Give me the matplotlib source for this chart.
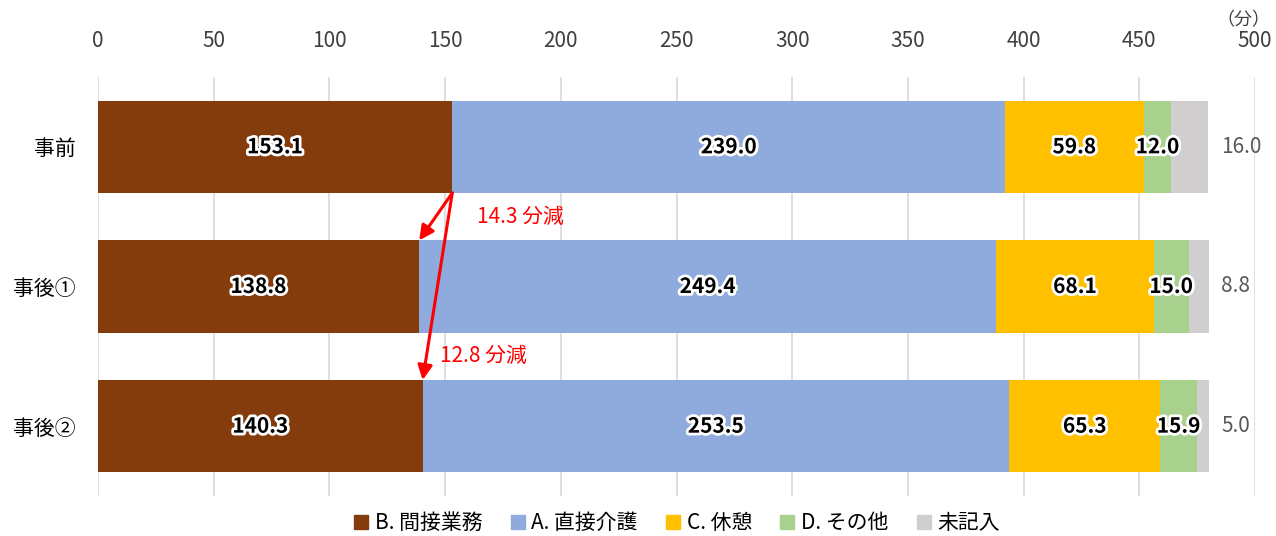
import matplotlib
matplotlib.use("Agg")
import matplotlib.pyplot as plt
import matplotlib.patheffects as pe
from matplotlib.patches import FancyArrowPatch
from matplotlib.lines import Line2D

plt.rcParams['font.family'] = ['Noto Sans CJK JP', 'DejaVu Sans']

categories = ['事前', '事後①', '事後②']
series_names = ['B. 間接業務', 'A. 直接介護', 'C. 休憩', 'D. その他', '未記入']
series_values = {
    'B. 間接業務': [153.1, 138.8, 140.3],
    'A. 直接介護': [239.0, 249.4, 253.5],
    'C. 休憩': [59.8, 68.1, 65.3],
    'D. その他': [12.0, 15.0, 15.9],
    '未記入': [16.0, 8.8, 5.0],
}
colors = ['#843C0C', '#8FAADC', '#FFC000', '#A9D18E', '#D0CECE']
xticks = [0, 50, 100, 150, 200, 250, 300, 350, 400, 450, 500]
diff_labels = ['14.3 分減', '12.8 分減']

fig = plt.figure(figsize=(12.76, 5.36), dpi=100)
ax = fig.add_axes([98/1276, 1-496/536, (1255-98)/1276, (496-77)/536])

bh = 0.66
left = [0.0, 0.0, 0.0]
for name, col in zip(series_names, colors):
    vals = series_values[name]
    ax.barh(range(len(categories)), vals, left=left, height=bh, color=col, zorder=2)
    for i, v in enumerate(vals):
        if name == '未記入':
            ax.annotate(f'{v:.1f}', xy=(left[i] + v, i), xytext=(9, 0),
                        textcoords='offset points', va='center', ha='left',
                        fontsize=15, color='#595959')
        else:
            ax.text(left[i] + v / 2, i, f'{v:.1f}', ha='center', va='center',
                    fontsize=15, fontweight='bold', color='black', zorder=4,
                    path_effects=[pe.withStroke(linewidth=4, foreground='white')])
    left = [l + v for l, v in zip(left, vals)]

ax.set_xlim(0, 500)
ax.set_ylim(2.5, -0.5)
ax.set_yticks(range(len(categories)))
ax.set_yticklabels(categories, fontsize=15)
ax.set_xticks(xticks)
ax.set_xticklabels([str(t) for t in xticks], fontsize=15, color='#404040')
ax.xaxis.tick_top()
ax.tick_params(axis='x', length=0, pad=18)
ax.tick_params(axis='y', length=0, pad=16)
ax.grid(axis='x', color='#D9D9D9', linewidth=1.2, zorder=0)
for s in ax.spines.values():
    s.set_visible(False)

fig.text(1270/1276, 1 - 20/536, '（分）', ha='right', va='center',
         fontsize=13, color='#404040')

# arrows
b = series_values['B. 間接業務']
start = (b[0], 0 + bh / 2)
for j, tgt in enumerate([1, 2]):
    arr = FancyArrowPatch(start, (b[tgt], tgt - bh / 2), arrowstyle='-|>',
                          mutation_scale=22, color='#FF0000', linewidth=2.2, zorder=5,
                          shrinkA=0, shrinkB=0)
    ax.add_patch(arr)
ax.text(164, 0.5, diff_labels[0], color='#FF0000', fontsize=15, va='center', ha='left')
ax.text(148, 1.5, diff_labels[1], color='#FF0000', fontsize=15, va='center', ha='left')

handles = [Line2D([0], [0], marker='s', linestyle='none', markersize=10,
                  markerfacecolor=c, markeredgecolor=c) for c in colors]
fig.legend(handles, series_names, loc='center', bbox_to_anchor=(0.53, 1 - 523/536),
           ncol=5, frameon=False, fontsize=15, handlelength=0.8,
           handletextpad=0.25, columnspacing=1.3)

fig.savefig('out.png', dpi=100)
